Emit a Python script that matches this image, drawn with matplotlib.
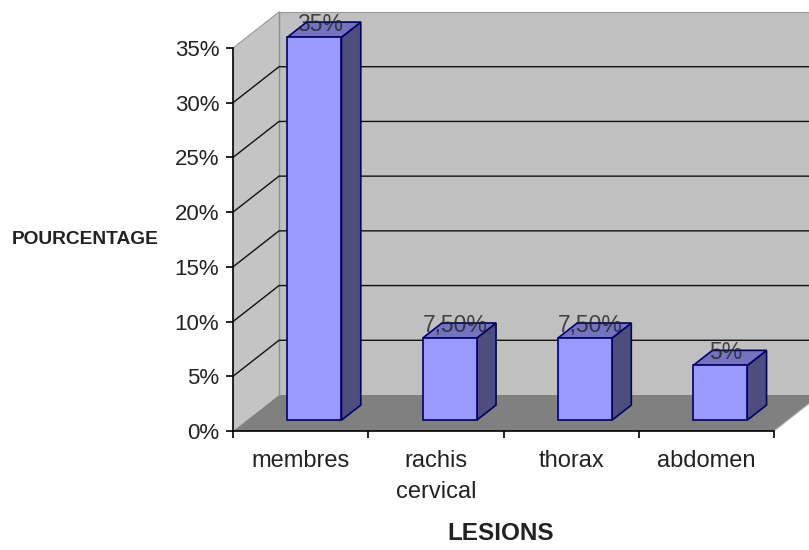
import numpy as np
import matplotlib
matplotlib.use('Agg')
import matplotlib.pyplot as plt

categories = ['membres', 'rachis\ncervical', 'thorax', 'abdomen']
values = [35, 7.5, 7.5, 5]
bar_labels = ['35%', '7,50%', '7,50%', '5%']
y_ticks = [0, 5, 10, 15, 20, 25, 30, 35]

plt.rcParams['font.family'] = ['Liberation Sans', 'DejaVu Sans']

W, H = 809, 550
fig = plt.figure(figsize=(W / 100, H / 100), dpi=100)
ax = fig.add_axes([233 / W, (H - 431) / H, 541 / W, 383 / H])
ax.set_xlim(0, 4)
ax.set_ylim(0, 35)
ax.patch.set_visible(False)

# depth of the fake 3d box, in data units
DX = 46 / 135.25
DY = 36 / (383 / 35)
far_x = 4.5

# walls and floor
ax.fill([0, 0, DX, DX], [0, 35, 35 + DY, DY], color='#c4c4c4', lw=0, clip_on=False, zorder=1)
ax.fill([DX, DX, far_x, far_x], [DY, 35 + DY, 35 + DY, DY], color='#c0c0c0', lw=0, clip_on=False, zorder=1)
ax.fill([0, 4, 4 + DX, DX], [0, 0, DY, DY], color='#808080', lw=0, clip_on=False, zorder=2)
ax.plot([DX, DX], [DY, 35 + DY], color='#8c8c8c', lw=1, clip_on=False, zorder=2)
ax.plot([DX, far_x], [35 + DY, 35 + DY], color='#9a9a9a', lw=0.8, clip_on=False, zorder=2)
ax.plot([0, DX], [35, 35 + DY], color='#9a9a9a', lw=0.8, clip_on=False, zorder=2)
ax.plot([4, 4 + DX], [0, DY], color='#b0b0b0', lw=0.8, clip_on=False, zorder=2)

# gridlines
for t in y_ticks[1:-1]:
    ax.plot([0, DX, far_x], [t, t + DY, t + DY], color='#111111', lw=1.0, clip_on=False, zorder=3)

# bars
bar_w = 0.4
d1, d2 = 0.3, 0.72
centers = np.arange(len(values)) + 0.5 + d1 * DX
base = d1 * DY
ax.bar(centers, values, bottom=base, width=bar_w, color='#9999ff', edgecolor='#000066',
       linewidth=1.2, clip_on=False, zorder=6)
for c, v, lab in zip(centers, values, bar_labels):
    x0, x1 = c - bar_w / 2, c + bar_w / 2
    top = v + base
    off_x = (d2 - d1) * DX
    off_y = (d2 - d1) * DY
    ax.fill([x1, x1 + off_x, x1 + off_x, x1], [base, base + off_y, top + off_y, top],
            facecolor='#4d4d80', edgecolor='#000066', lw=1.2, clip_on=False, zorder=5)
    ax.fill([x0, x1, x1 + off_x, x0 + off_x], [top, top, top + off_y, top + off_y],
            facecolor='#7373bf', edgecolor='#000066', lw=1.2, clip_on=False, zorder=5)
    ax.text(c + 0.04, top + 0.1, lab, ha='center', va='bottom', fontsize=16.5,
            color='#222222', alpha=0.8, zorder=7, clip_on=False)

# axes
for s in ['top', 'right']:
    ax.spines[s].set_visible(False)
for s in ['left', 'bottom']:
    ax.spines[s].set_linewidth(1.2)
    ax.spines[s].set_zorder(8)
ax.set_yticks(y_ticks)
ax.set_yticklabels(['%d%%' % t for t in y_ticks], fontsize=16, color='#222222')
ax.set_xticks([0, 1, 2, 3, 4])
ax.set_xticklabels([])
ax.set_xticks(np.arange(len(categories)) + 0.5, minor=True)
ax.set_xticklabels(categories, minor=True, fontsize=17, color='#222222', linespacing=1.5)
ax.tick_params(axis='x', which='minor', length=0, pad=14)
ax.tick_params(axis='x', which='major', length=5, width=1.2)
ax.tick_params(axis='y', length=5, width=1.2, pad=5)

ax.set_xlabel('LESIONS', fontsize=17.5, fontweight='bold', color='#222222')
ax.xaxis.set_label_coords((501 - 233) / 541, -(533 - 431) / 383)
ax.xaxis.label.set_va('center')
ax.set_ylabel('POURCENTAGE', fontsize=13.8, fontweight='bold', rotation=0, color='#222222',
              ha='center', va='center')
ax.yaxis.set_label_coords((85.5 - 233) / 541, (431 - 239) / 383)

fig.savefig('out.png', dpi=100)
